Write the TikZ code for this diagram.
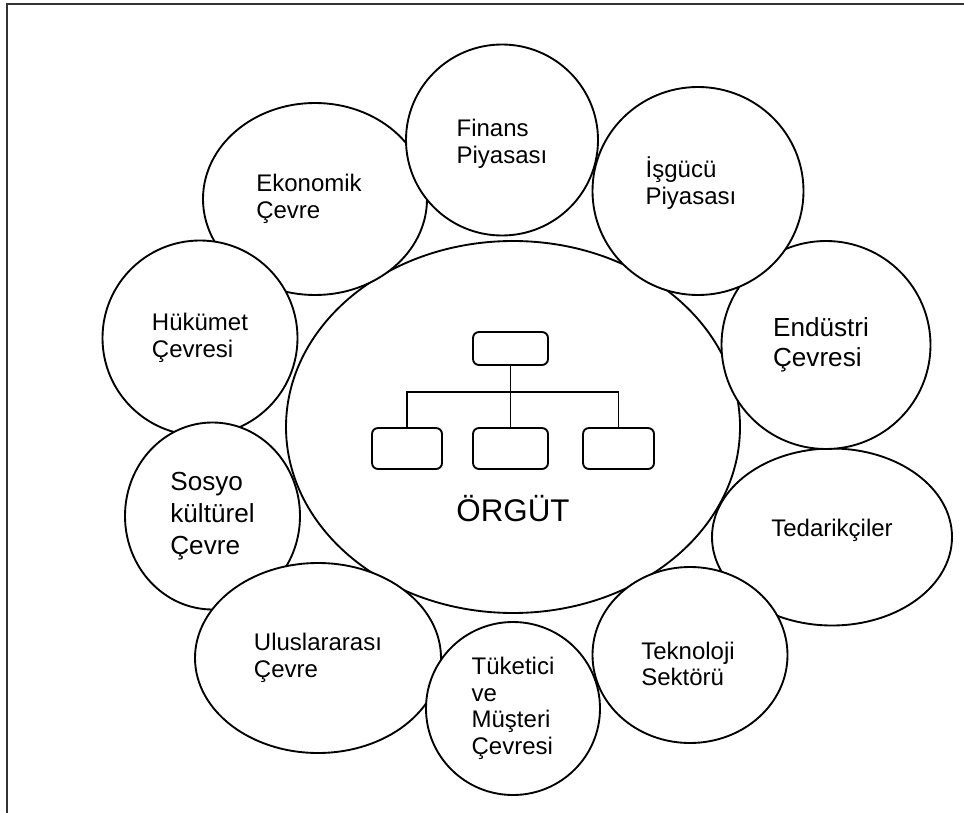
\documentclass[tikz,border=0pt]{standalone}
\usepackage{fontspec}
\setmainfont{Liberation Sans}
\usepackage{tikz}
\usetikzlibrary{shapes}
\tikzstyle{env} = [ellipse, draw, fill=white, line width=1.4pt, inner sep=0pt]
\tikzstyle{txt} = [align=left, inner sep=0pt, font=\fontsize{18}{20}\selectfont]
\tikzstyle{unit} = [rectangle, draw, rounded corners=4.5pt, line width=1.4pt, minimum height=30.75pt]
\tikzstyle{line} = [draw, line width=1.4pt]

\begin{document}
\begin{tikzpicture}[x=0.75pt, y=-0.75pt]
    \useasboundingbox (0,0) rectangle (964,813);
    \draw [black!80, line width=1.5pt] (964,4) -- (7,4) -- (7,813);

    % the organisation in the middle
    \node [env, minimum width=340.5pt, minimum height=279pt] (org) at (513,427) {};
    \node [unit, minimum width=56.25pt, minimum height=24.75pt] (boss) at (510.5,348.5) {};
    \node [unit, minimum width=52.5pt] (left) at (407,448.5) {};
    \node [unit, minimum width=56.25pt] (mid) at (510.5,448.5) {};
    \node [unit, minimum width=53.25pt] (right) at (618.5,448.5) {};
    \coordinate (bus) at (510.5,392);
    \path [line] (boss) -- (mid);
    \path [line] (left) |- (bus) -| (right);
    \node [font=\fontsize{23.5}{26}\selectfont] (orgname) at (513,509) {ÖRGÜT};

    % the environments round it
    \node [env, minimum width=168pt, minimum height=144pt] (eko) at (315,199) {};
    \node [txt] (eko-t) at ([shift={(-6,0)}]eko) {Ekonomik\\Çevre};
    \node [env, minimum width=146.25pt, minimum height=146.25pt] (huk) at (200,338) {};
    \node [txt] (huk-t) at (huk) {Hükümet\\Çevresi};
    \node [env, minimum width=131.25pt, minimum height=140.25pt] (sos) at (212.5,516) {};
    \node [txt, font=\fontsize{19.6}{24}\selectfont] (sos-t) at (sos) {Sosyo\\kültürel\\Çevre};
    \node [env, minimum width=184.5pt, minimum height=142.5pt] (ulu) at (318,658) {};
    \node [txt] (ulu-t) at (ulu) {Uluslararası\\Çevre};
    \node [env, minimum width=130.5pt, minimum height=129.75pt] (tuk) at (513,708.5) {};
    \node [txt] (tuk-t) at (tuk) {Tüketici\\ve\\Müşteri\\Çevresi};
    \node [env, minimum width=180pt, minimum height=132.75pt] (ted) at (832,537) {};
    \node [txt] (ted-t) at ([shift={(0,-7)}]ted) {Tedarikçiler};
    \node [env, minimum width=146.25pt, minimum height=132pt] (tek) at (690,655) {};
    \node [txt] (tek-t) at ([shift={(-2,9)}]tek) {Teknoloji\\Sektörü};
    \node [env, minimum width=156.75pt, minimum height=156pt] (end) at (826,345) {};
    \node [txt, font=\fontsize{19.6}{22.5}\selectfont] (end-t) at ([shift={(-5,0)}]end) {Endüstri\\Çevresi};
    \node [env, minimum width=158.25pt, minimum height=156pt] (isg) at (698,191) {};
    \node [txt] (isg-t) at ([shift={(-7,-8)}]isg) {İşgücü\\Piyasası};
    \node [env, minimum width=144pt, minimum height=143.25pt] (fin) at (502,140) {};
    \node [txt] (fin-t) at ([shift={(0,4)}]fin) {Finans\\Piyasası};
\end{tikzpicture}
\end{document}
